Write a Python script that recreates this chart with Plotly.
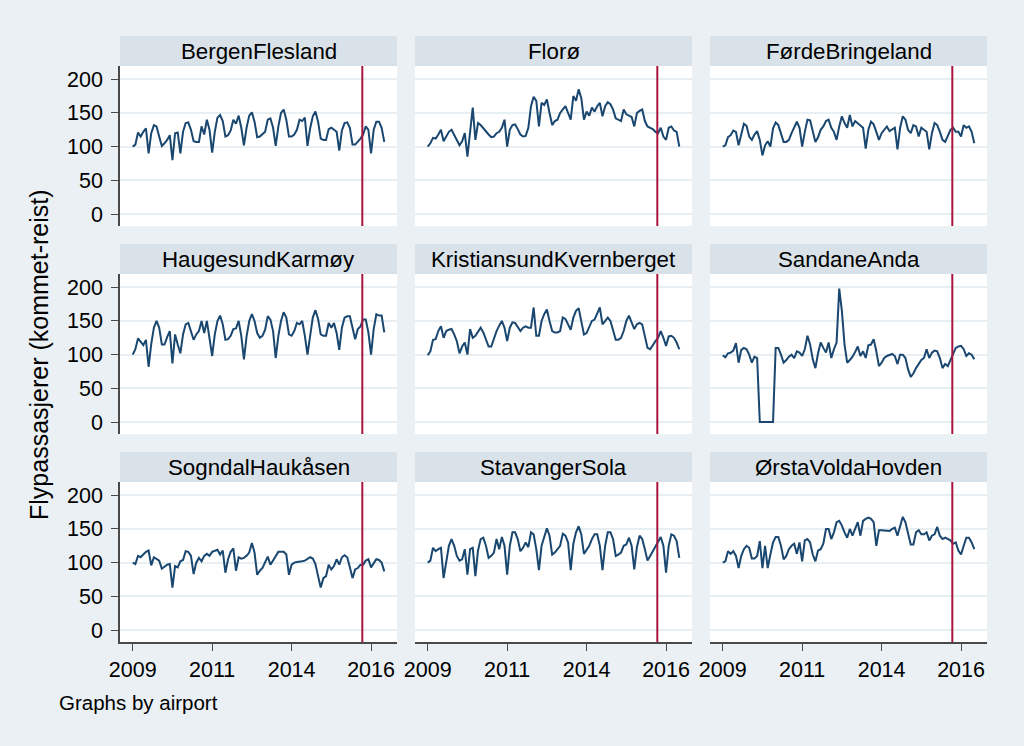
import plotly.graph_objects as go

# ---------------- data (monthly index, Jan 2009 = 100) ----------------
airports = ["BergenFlesland", "Florø", "FørdeBringeland",
            "HaugesundKarmøy", "KristiansundKvernberget", "SandaneAnda",
            "SogndalHaukåsen", "StavangerSola", "ØrstaVoldaHovden"]

month_index = list(range(96))  # 2009m1 .. 2016m12

bergen = [100,103,121,115,122,127,90,120,132,130,115,101,
          105,110,117,80,120,121,90,122,135,136,125,108,
          107,107,130,118,140,125,91,122,143,147,138,115,
          117,124,140,134,146,128,102,128,146,151,137,114,
          115,118,122,140,142,128,101,130,150,155,140,115,
          115,118,125,140,138,143,101,127,145,152,137,112,
          110,110,126,128,125,122,94,124,135,136,128,103,
          103,107,112,118,130,125,90,125,137,137,128,107]

floro = [100,105,113,112,118,125,108,115,122,125,117,110,
         102,108,120,85,118,158,110,135,132,127,122,118,
         114,115,120,122,128,140,100,125,132,133,126,118,
         115,116,128,160,174,168,130,165,162,170,150,132,
         138,140,150,155,160,150,140,175,168,185,172,140,
         152,146,158,152,160,165,145,160,166,163,155,142,
         140,138,155,148,146,144,130,150,153,155,138,130,
         128,126,122,120,128,115,110,128,130,124,122,100]

forde = [100,102,114,117,124,122,102,120,134,131,115,110,
         118,123,110,87,102,108,100,127,136,132,120,107,
         107,110,120,130,137,128,100,122,140,139,125,107,
         114,125,130,138,140,128,122,110,130,145,135,128,
         147,130,138,135,132,128,97,125,137,133,122,110,
         120,125,130,123,125,128,96,128,145,140,125,120,
         132,130,115,128,125,122,96,120,135,132,122,110,
         107,115,125,128,122,122,115,132,128,130,122,105]

haugesund = [100,108,124,118,114,122,82,116,140,150,140,115,
             115,126,135,87,130,115,102,130,145,147,135,122,
             130,135,150,132,150,125,98,130,150,158,145,122,
             123,128,138,139,150,128,93,127,150,160,150,132,
             125,128,137,157,152,135,95,128,150,163,155,130,
             128,135,147,145,150,128,100,128,155,166,153,130,
             128,128,147,140,147,132,107,140,155,157,157,140,
             123,138,142,152,152,133,100,138,160,158,158,133]

kristiansund = [99,105,122,123,135,142,125,135,137,138,130,120,
                102,112,118,100,138,125,128,135,140,133,122,112,
                112,125,135,143,150,140,120,140,148,147,140,135,
                140,142,140,140,170,128,128,150,160,167,150,135,
                133,133,135,155,153,145,137,155,165,169,150,130,
                132,140,150,152,160,170,145,150,155,150,137,122,
                122,125,135,150,158,148,138,145,147,145,128,110,
                108,115,120,125,135,125,113,127,128,125,118,108]

sandane = [99,96,102,103,106,117,88,107,110,108,100,88,
           97,95,0,0,0,0,0,0,110,110,100,88,
           92,97,100,95,105,103,98,108,128,115,93,80,
           102,118,110,103,118,95,108,118,198,165,115,88,
           92,97,104,112,98,105,95,114,115,123,105,83,
           88,95,98,100,101,98,86,100,100,95,78,67,
           72,80,87,92,95,108,95,103,106,105,95,80,
           86,83,92,102,110,112,113,108,98,102,100,93]

sogndal = [100,98,110,108,112,116,118,96,108,106,103,91,
           94,97,98,63,95,93,102,104,117,116,110,83,
           100,107,102,110,113,110,116,117,119,112,118,85,
           105,116,121,88,108,106,107,110,115,129,115,82,
           88,92,100,109,97,103,110,116,116,116,112,82,
           97,100,101,101,102,103,105,108,106,98,80,63,
           77,80,97,90,95,105,97,108,111,108,93,77,
           90,92,97,97,103,105,93,100,105,104,100,87]

stavanger = [100,103,122,117,120,122,77,100,125,135,125,110,
             103,105,120,82,120,122,80,118,135,137,125,107,
             110,115,135,120,138,125,82,125,145,145,135,117,
             122,130,123,145,142,120,89,125,140,151,140,112,
             115,120,125,143,140,130,89,128,145,154,142,113,
             120,125,135,142,142,125,89,125,145,145,135,110,
             112,115,125,127,137,125,90,123,140,135,120,103,
             110,117,123,130,138,125,85,125,142,140,132,107]

orsta = [100,102,117,113,117,110,92,110,120,125,122,106,
         106,110,132,92,125,92,112,130,138,138,125,105,
         110,120,125,128,113,130,102,133,135,130,112,102,
         118,120,128,150,150,135,145,160,162,155,145,137,
         150,140,150,160,140,162,165,167,165,160,125,148,
         148,148,147,147,150,152,140,155,168,160,142,127,
         127,145,148,142,142,145,133,140,142,153,140,135,
         137,135,133,128,130,118,112,125,137,137,130,120]

series = [bergen, floro, forde, haugesund, kristiansund, sandane,
          sogndal, stavanger, orsta]

x_tick_vals = [0, 30, 60, 90]
x_tick_text = ["2009", "2011", "2014", "2016"]
y_tick_vals = [0, 50, 100, 150, 200]
event_month = 86.7

# ---------------- styling / layout ----------------
W, H = 1024, 746
FONT = "Liberation Sans, Arial, sans-serif"
BG = "#EAF0F4"
STRIP = "#D9E2E9"
NAVY = "#1A476F"
RED = "#A8153E"
AXIS = "#4A4A4A"
GRID = "#E8EFF2"

col_x0 = [120, 415, 710]
plot_w = 277
strip_top = [36, 244, 452]
strip_h = 30
plot_h = 160

fig = go.Figure()
layout = dict(
    template="none",
    width=W, height=H, autosize=False,
    margin=dict(l=0, r=0, t=0, b=0, pad=0),
    paper_bgcolor=BG, plot_bgcolor="white",
    font=dict(family=FONT, color="black", size=21),
    showlegend=False,
    shapes=[], annotations=[],
)

for i, (name, vals) in enumerate(zip(airports, series)):
    r, c = divmod(i, 3)
    k = i + 1
    xa = "xaxis" if k == 1 else f"xaxis{k}"
    ya = "yaxis" if k == 1 else f"yaxis{k}"
    xr = "x" if k == 1 else f"x{k}"
    yr = "y" if k == 1 else f"y{k}"
    x0 = col_x0[c]
    top = strip_top[r] + strip_h
    bot = top + plot_h

    fig.add_trace(go.Scatter(
        x=month_index, y=vals, mode="lines",
        line=dict(color=NAVY, width=2),
        xaxis=xr, yaxis=yr, hoverinfo="skip",
    ))

    xdict = dict(domain=[x0 / W, (x0 + plot_w) / W], anchor=yr,
                 range=[-4.8, 99.8], showgrid=False, zeroline=False,
                 fixedrange=True, automargin=False)
    if r == 2:
        xdict.update(showline=True, linecolor=AXIS, linewidth=1.5,
                     ticks="outside", ticklen=7, tickwidth=1.2,
                     tickcolor=AXIS, tickvals=x_tick_vals,
                     ticktext=x_tick_text, showticklabels=True,
                     tickfont=dict(size=21.5))
    else:
        xdict.update(showline=False, ticks="", showticklabels=False)
    layout[xa] = xdict

    ydict = dict(domain=[1 - bot / H, 1 - top / H], anchor=xr,
                 range=[-17.8, 219.7], tickvals=y_tick_vals,
                 showgrid=True, gridcolor=GRID, gridwidth=1.5,
                 zeroline=False, fixedrange=True, automargin=False)
    if c == 0:
        ydict.update(showline=True, linecolor=AXIS, linewidth=1.5,
                     ticks="outside", ticklen=7, tickwidth=1.2,
                     tickcolor=AXIS, showticklabels=True,
                     ticklabelstandoff=4,
                     tickfont=dict(size=21.5))
    else:
        ydict.update(showline=False, ticks="", showticklabels=False)
    layout[ya] = ydict

    # strip header
    layout["shapes"].append(dict(
        type="rect", xref="paper", yref="paper",
        x0=x0 / W, x1=(x0 + plot_w) / W,
        y0=1 - (strip_top[r] + strip_h) / H, y1=1 - strip_top[r] / H,
        fillcolor=STRIP, line=dict(width=0), layer="below"))
    layout["annotations"].append(dict(
        text=name, xref="paper", yref="paper",
        x=(x0 + plot_w / 2) / W, y=1 - (strip_top[r] + strip_h / 2) / H,
        xanchor="center", yanchor="middle", showarrow=False,
        font=dict(size=22.3, color="black")))

    # event line
    layout["shapes"].append(dict(
        type="line", xref=xr, yref=f"{yr} domain",
        x0=event_month, x1=event_month, y0=0, y1=1,
        line=dict(color=RED, width=2), layer="above"))

layout["annotations"].append(dict(
    text="Flypassasjerer (kommet-reist)", xref="paper", yref="paper",
    x=39 / W, y=1 - 355 / H, xanchor="center", yanchor="middle",
    textangle=-90, showarrow=False, font=dict(size=25, color="black")))
layout["annotations"].append(dict(
    text="Graphs by airport", xref="paper", yref="paper",
    x=57 / W, y=1 - 702 / H, xanchor="left", yanchor="middle",
    showarrow=False, font=dict(size=20.5, color="black")))

fig.update_layout(**layout)
fig.write_html("out.html",
               config={"displayModeBar": False, "responsive": False},
               post_script="document.body.style.margin='0';"
                           "document.body.style.padding='0';"
                           "document.body.style.overflow='hidden';")
